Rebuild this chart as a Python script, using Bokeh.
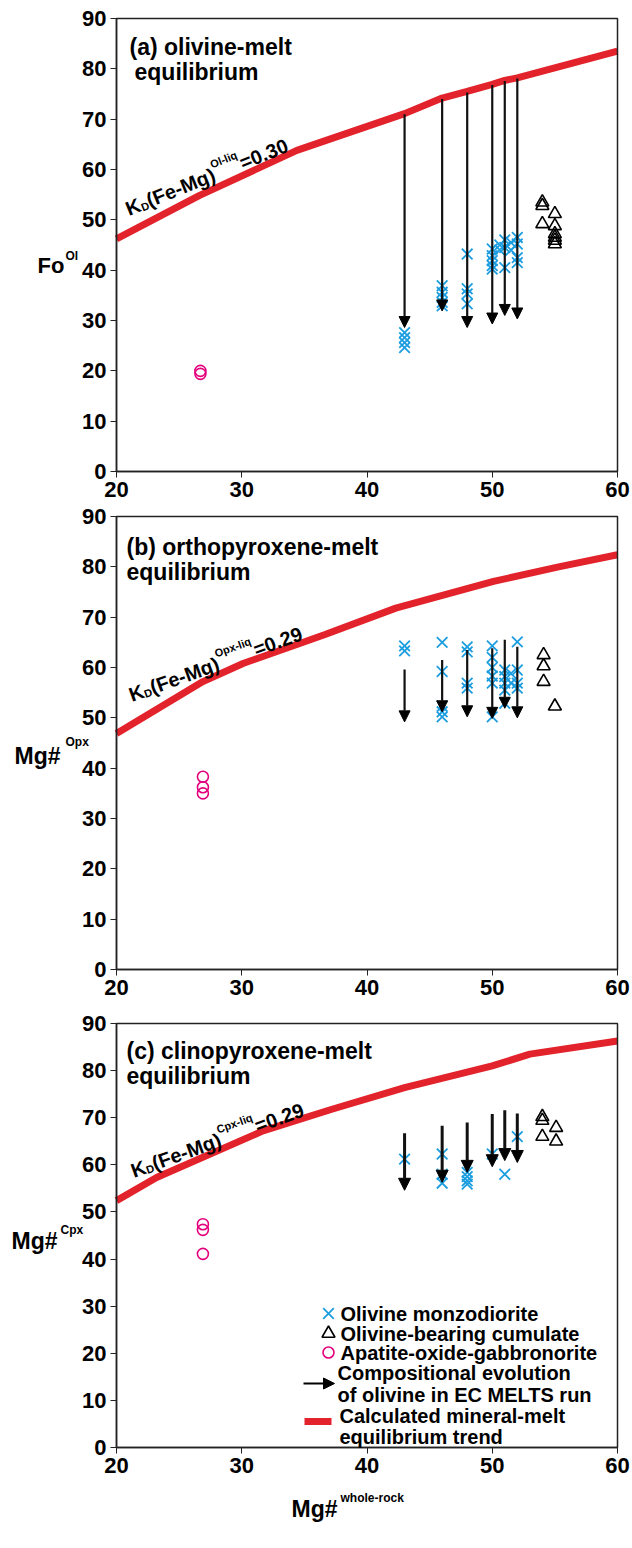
from bokeh.plotting import figure
from bokeh.layouts import column
from bokeh.models import Range1d, Label, Arrow, NormalHead, ColumnDataSource, FixedTicker, BoxAnnotation
from bokeh.embed import file_html
from bokeh.resources import INLINE
import math

# ---------------- data ----------------
# panel (a) olivine
a_curve_x = [20, 26.6, 34.4, 43, 46, 48, 50, 51, 52, 60]
a_curve_y = [46.2, 54.8, 63.8, 71.1, 74.2, 75.5, 76.9, 77.7, 78.2, 83.5]
a_arrow_x = [43, 46, 48, 50, 51, 52]
a_arrow_y0 = [71.0, 74.0, 75.3, 76.8, 77.6, 78.1]
a_arrow_y1 = [28.6, 31.9, 28.6, 29.3, 31.0, 30.3]
a_mz_x = [43, 43, 43, 43, 46, 46, 46, 46, 46, 48, 48, 48, 48, 50, 50, 50, 50, 50,
          50.6, 50.6, 51, 51, 51, 51.5, 51.5, 52, 52, 52, 52]
a_mz_y = [27.6, 26.6, 25.6, 24.6, 36.9, 35.6, 34.6, 33.6, 32.9, 43.2, 36.3, 35.3, 33.3,
          44.2, 42.9, 41.9, 40.9, 40.2, 45.0, 44.0, 46.0, 44.5, 40.5, 45.5, 44.0,
          46.5, 45.2, 42.5, 41.5]
a_cum_x = [54, 54, 54, 55, 55, 55, 55, 55, 55]
a_cum_y = [53.5, 52.8, 49.2, 51.2, 48.8, 47.2, 46.5, 45.9, 45.2]
a_gab_x = [26.7, 26.7]
a_gab_y = [20.0, 19.4]

# panel (b) orthopyroxene
b_curve_x = [20, 26.9, 30.1, 36.6, 42.3, 50.1, 55.3, 60]
b_curve_y = [46.9, 57.2, 60.8, 66.5, 71.8, 77.1, 80.0, 82.4]
b_arrow_x = [43, 46, 48, 50, 51, 52]
b_arrow_y0 = [59.6, 61.5, 63.5, 63.8, 65.5, 64.1]
b_arrow_y1 = [49.2, 51.2, 50.2, 49.9, 51.9, 50.0]
b_mz_x = [43, 43, 46, 46, 46, 46, 46, 48, 48, 48, 48, 50, 50, 50, 50, 50, 50,
          51, 51, 51, 51, 51, 51.5, 51.5, 52, 52, 52, 52]
b_mz_y = [64.3, 63.3, 65.0, 59.2, 52.3, 51.2, 50.2, 64.1, 63.1, 56.9, 55.9,
          64.3, 62.0, 60.0, 58.3, 56.9, 50.2, 59.5, 58.2, 56.9, 55.5, 52.9,
          58.8, 56.9, 65.1, 59.5, 56.9, 55.9]
b_cum_x = [54.1, 54.1, 54.1, 55]
b_cum_y = [62.5, 60.3, 57.2, 52.3]
b_gab_x = [26.9, 26.9, 26.9]
b_gab_y = [38.3, 36.2, 35.0]

# panel (c) clinopyroxene
c_curve_x = [20, 23.2, 31.7, 37.2, 43, 50, 53, 60]
c_curve_y = [52.4, 57.3, 67.2, 71.8, 76.4, 81.0, 83.5, 86.3]
c_arrow_x = [43, 46, 48, 50, 51, 52]
c_arrow_y0 = [66.7, 68.3, 69.0, 70.8, 71.6, 70.9]
c_arrow_y1 = [54.6, 56.3, 58.4, 59.6, 60.9, 60.5]
c_mz_x = [43, 46, 46, 46, 48, 48, 48, 48, 50, 51, 52]
c_mz_y = [61.2, 62.3, 58.0, 56.1, 58.4, 57.5, 56.6, 55.9, 62.3, 58.0, 66.0]
c_cum_x = [54, 54, 54, 55.1, 55.1]
c_cum_y = [70.2, 69.4, 66.0, 67.9, 65.0]
c_gab_x = [26.9, 26.9, 26.9]
c_gab_y = [47.4, 46.2, 41.1]

x_min, x_max = 20, 60
y_min, y_max = 0, 90
x_ticks = [20, 30, 40, 50, 60]
y_ticks = [0, 10, 20, 30, 40, 50, 60, 70, 80, 90]

legend_labels = ["Olivine monzodiorite", "Olivine-bearing cumulate", "Apatite-oxide-gabbronorite",
                 "Compositional evolution", "of olivine in EC MELTS run",
                 "Calculated mineral-melt", "equilibrium trend"]

# ---------------- style ----------------
FONT = "Liberation Sans"
BLUE = "#1b9de0"
MAG = "#e4007c"
RED = "#e3232b"
W = 632
FL, FR = 116, 617           # frame (box) left / right in page px
XSIZE, XLW = 15, 1.8

CW = {'K': 722, 'D': 722, '(': 333, ')': 333, 'F': 611, 'e': 556, '-': 333, 'M': 833, 'g': 611,
      'O': 778, 'l': 278, 'i': 278, 'q': 611, '=': 584, '0': 556, '.': 278, '3': 556, '2': 556,
      '9': 556, 'p': 611, 'x': 556, 'C': 722, 'o': 611}


def twidth(s, size):
    return sum(CW.get(ch, 556) for ch in s) * size / 1000.0


class Geo:
    """Maps page pixels to data for one figure whose plotting area fills the figure."""
    def __init__(self, page_top, h, box_top, box_bottom):
        self.pt, self.h, self.bt, self.bb = page_top, h, box_top, box_bottom
        self.sx = (FR - FL) / (x_max - x_min)
        self.sy = (box_bottom - box_top) / (y_max - y_min)

    def x(self, px):
        return x_min + (px - FL) / self.sx

    def y(self, py):
        return y_min + (self.bb - py) / self.sy

    def xr(self):
        return Range1d(self.x(0), self.x(W))

    def yr(self):
        return Range1d(self.y(self.pt + self.h), self.y(self.pt))


def make_fig(g):
    p = figure(width=W, height=g.h, x_range=g.xr(), y_range=g.yr(),
               output_backend="svg", toolbar_location=None,
               min_border=0, min_border_left=0, min_border_right=0,
               min_border_top=0, min_border_bottom=0)
    p.xgrid.visible = False
    p.ygrid.visible = False
    p.outline_line_color = None
    p.background_fill_color = "white"
    p.border_fill_color = "white"
    p.xaxis.fixed_location = y_min
    p.yaxis.fixed_location = x_min
    for ax, ticks, b in ((p.xaxis[0], x_ticks, (x_min, x_max)), (p.yaxis[0], y_ticks, (y_min, y_max))):
        ax.ticker = FixedTicker(ticks=ticks)
        ax.bounds = b
        ax.minor_tick_line_color = None
        ax.major_tick_in = 0
        ax.major_tick_out = 6
        ax.major_tick_line_color = "#222222"
        ax.major_tick_line_width = 1
        ax.axis_line_color = "#222222"
        ax.axis_line_width = 1.5
        ax.major_label_text_font = FONT
        ax.major_label_text_font_style = "bold"
        ax.major_label_text_font_size = "22px"
        ax.major_label_text_color = "black"
        ax.major_label_standoff = 4
    p.add_layout(BoxAnnotation(left=x_min, right=x_max, bottom=y_min, top=y_max,
                               fill_alpha=0, fill_color=None, line_color="#222222",
                               line_width=1.5, line_alpha=1))
    return p


def add_label(p, x, y, text, size, angle=0.0, align="left", baseline="alphabetic"):
    p.add_layout(Label(x=x, y=y, text=text, text_font=FONT, text_font_style="bold",
                       text_font_size=f"{size}px", text_color="black", angle=angle,
                       text_align=align, text_baseline=baseline))


def kd_label(p, g, sx, sy, deg, sup, val, big=20):
    a = math.radians(deg)
    ux, uy = math.cos(a), -math.sin(a)
    nx, ny = -math.sin(a), -math.cos(a)
    pieces = [("K", big, 0), ("D", 11, -4), ("(Fe-Mg)", big, 0), (sup, 11, 10), (val, big, 0)]
    adv = 0.0
    for txt, size, off in pieces:
        px = sx + adv * ux + off * nx
        py = sy + adv * uy + off * ny
        add_label(p, g.x(px), g.y(py), txt, size, angle=a)
        adv += twidth(txt, size)


def panel(p, cx, cy, ax, ay0, ay1, mx, my, tx, ty, gx, gy, head, lw):
    p.line(cx, cy, line_width=7, line_color=RED)
    src = ColumnDataSource(dict(x=ax, y0=ay0, y1=ay1))
    p.add_layout(Arrow(end=NormalHead(size=head, fill_color="black", line_color="black"),
                       x_start="x", y_start="y0", x_end="x", y_end="y1", source=src,
                       line_width=lw, line_color="#111111"))
    p.scatter(mx, my, marker="x", size=XSIZE, line_color=BLUE, line_width=XLW)
    p.scatter(tx, ty, marker="triangle", size=13, line_color="black", fill_color=None,
              line_width=1.6)
    p.scatter(gx, gy, marker="circle", size=11, line_color=MAG, fill_color=None, line_width=1.6)


# ---------------- figures ----------------
ga = Geo(0, 504, 18, 471)
pa = make_fig(ga)
panel(pa, a_curve_x, a_curve_y, a_arrow_x, a_arrow_y0, a_arrow_y1, a_mz_x, a_mz_y,
      a_cum_x, a_cum_y, a_gab_x, a_gab_y, 11, 2.2)
add_label(pa, ga.x(129), ga.y(46), "(a) olivine-melt", 23)
add_label(pa, ga.x(134), ga.y(71), "equilibrium", 23)
kd_label(pa, ga, 126, 209, 22, "Ol-liq", "=0.30")
add_label(pa, ga.x(37), ga.y(265), "Fo", 22)
add_label(pa, ga.x(65), ga.y(255), "Ol", 12)

gb = Geo(504, 496, 516, 969)
pb = make_fig(gb)
panel(pb, b_curve_x, b_curve_y, b_arrow_x, b_arrow_y0, b_arrow_y1, b_mz_x, b_mz_y,
      b_cum_x, b_cum_y, b_gab_x, b_gab_y, 11, 2.2)
add_label(pb, gb.x(126), gb.y(546), "(b) orthopyroxene-melt", 23)
add_label(pb, gb.x(126), gb.y(571), "equilibrium", 23)
kd_label(pb, gb, 129, 695, 20, "Opx-liq", "=0.29")
add_label(pb, gb.x(14), gb.y(755), "Mg#", 23)
add_label(pb, gb.x(65), gb.y(741), "Opx", 12)

gc = Geo(1000, 546, 1023, 1447)
pc = make_fig(gc)
panel(pc, c_curve_x, c_curve_y, c_arrow_x, c_arrow_y0, c_arrow_y1, c_mz_x, c_mz_y,
      c_cum_x, c_cum_y, c_gab_x, c_gab_y, 12, 3)
add_label(pc, gc.x(126), gc.y(1050), "(c) clinopyroxene-melt", 23)
add_label(pc, gc.x(126), gc.y(1075), "equilibrium", 23)
kd_label(pc, gc, 131, 1171, 20, "Cpx-liq", "=0.29")
add_label(pc, gc.x(11), gc.y(1240), "Mg#", 23)
add_label(pc, gc.x(60), gc.y(1229), "Cpx", 12)
add_label(pc, gc.x(291), gc.y(1508), "Mg#", 23)
add_label(pc, gc.x(340), gc.y(1497), "whole-rock", 12)

# legend (panel c)
rows = [1313, 1333, 1352]
pc.scatter([gc.x(328)], [gc.y(rows[0])], marker="x", size=XSIZE, line_color=BLUE, line_width=XLW)
pc.scatter([gc.x(328)], [gc.y(rows[1])], marker="triangle", size=13, line_color="black",
           fill_color=None, line_width=1.6)
pc.scatter([gc.x(328)], [gc.y(rows[2])], marker="circle", size=11, line_color=MAG,
           fill_color=None, line_width=1.6)
for r, t in zip(rows, legend_labels[:3]):
    add_label(pc, gc.x(340), gc.y(r), t, 20, baseline="middle")
pc.add_layout(Arrow(end=NormalHead(size=11, fill_color="black", line_color="black"),
                    x_start=gc.x(303), y_start=gc.y(1383), x_end=gc.x(334), y_end=gc.y(1383),
                    line_width=2, line_color="black"))
add_label(pc, gc.x(337), gc.y(1372), legend_labels[3], 20, baseline="middle")
add_label(pc, gc.x(337), gc.y(1394), legend_labels[4], 20, baseline="middle")
pc.line([gc.x(304), gc.x(331)], [gc.y(1421), gc.y(1421)], line_width=7, line_color=RED)
add_label(pc, gc.x(339), gc.y(1415), legend_labels[5], 20, baseline="middle")
add_label(pc, gc.x(339), gc.y(1436), legend_labels[6], 20, baseline="middle")

layout = column(pa, pb, pc, spacing=0)
open("out.html", "w").write(file_html(layout, INLINE))
